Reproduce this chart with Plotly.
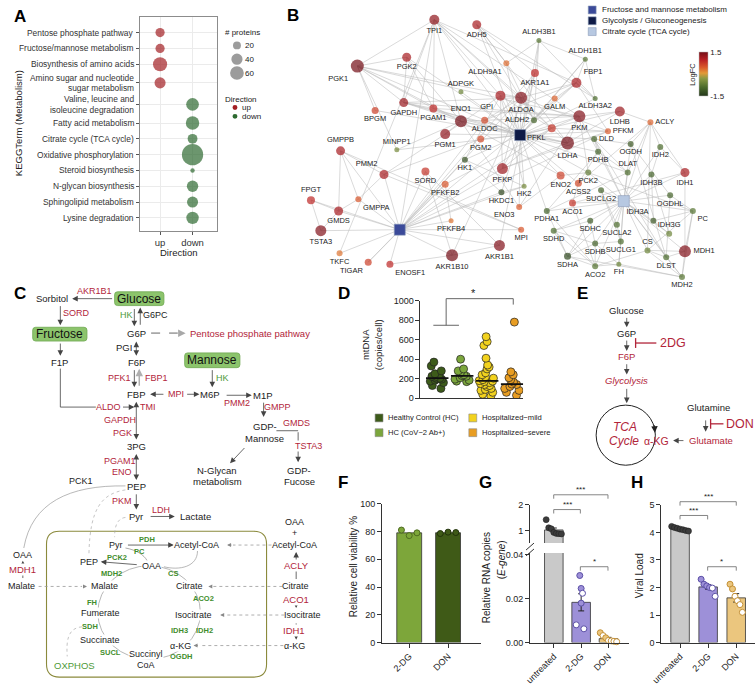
import numpy as np
import plotly.graph_objects as go

W, H = 756, 689
FONT = "Arial, Liberation Sans, sans-serif"

# ======================= DATA =======================
# Panel A: KEGG enrichment
kegg_terms = ["Pentose phosphate pathway", "Fructose/mannose metabolism", "Biosynthesis of amino acids",
              "Amino sugar and nucleotide<br>sugar metabolism", "Valine, leucine and<br>isoleucine degradation",
              "Fatty acid metabolism", "Citrate cycle (TCA cycle)", "Oxidative phosphorylation",
              "Steroid biosynthesis", "N-glycan biosynthesis", "Sphingolipid metabolism", "Lysine degradation"]
kegg_direction = ["up", "up", "up", "up", "down", "down", "down", "down", "down", "down", "down", "down"]
kegg_nproteins = [13, 13, 31, 19, 25, 28, 15, 70, 3, 20, 19, 24]
size_legend_values = [20, 40, 60]

# Panel B: protein network (layout coordinates of the network graph)
gene_names = ["TPI1", "ADH5", "PGK1", "PGK2", "ADPGK", "GPI", "BPGM", "GAPDH", "PGAM1", "ENO1", "ALDOC", "PGM1",
              "PGM2", "MINPP1", "HK1", "GMPPB", "PMM2", "SORD", "PFKFB2", "FPGT", "HKDC1", "ALDH3B1", "ALDH1B1",
              "ALDH9A1", "AKR1A1", "FBP1", "ALDOA", "GALM", "ALDH3A2", "LDHB", "ALDH2", "PKM", "ACLY", "PFKM",
              "PFKL", "LDHA", "DLD", "OGDH", "IDH2", "PDHB", "PFKP", "ENO2", "PCK2", "DLAT", "IDH3B", "IDH1", "HK2",
              "ACSS2", "SUCLG2", "OGDHL", "GMPPA", "GMDS", "TSTA3", "PFKFB4", "TKFC", "TIGAR", "ENOSF1", "AKR1B10",
              "AKR1B1", "ENO3", "MPI", "PDHA1", "ACO1", "PC", "IDH3A", "SDHC", "SUCLA2", "IDH3G", "SDHD", "SDHB",
              "SUCLG1", "CS", "MDH1", "DLST", "SDHA", "ACO2", "FH", "MDH2"]
gene_x = [430, 473, 352, 402, 457, 497, 370, 399, 429, 457, 481, 441, 477, 392, 461, 335, 379, 421, 441, 305, 498,
          536, 583, 503, 532, 574, 518, 552, 593, 618, 531, 577, 649, 606, 549, 565, 592, 629, 659, 596, 499, 558,
          586, 626, 650, 684, 521, 576, 599, 669, 353, 333, 315, 447, 334, 363, 385, 448, 496, 516, 518, 544, 570,
          692, 652, 588, 615, 668, 551, 593, 619, 646, 684, 665, 565, 593, 617, 681]
gene_y = [15, 20, 62, 53, 88, 92, 107, 99, 105, 118, 117, 131, 136, 147, 157, 148, 172, 169, 182, 198, 190, 36, 55,
          59, 69, 79, 94, 95, 95, 108, 117, 113, 119, 128, 125, 140, 136, 141, 144, 149, 166, 173, 170, 170, 172,
          170, 184, 181, 188, 193, 197, 209, 229, 219, 252, 261, 263, 254, 244, 205, 228, 209, 201, 209, 219, 219,
          223, 232, 229, 242, 240, 249, 250, 256, 255, 265, 263, 276]
gene_logfc = [1.3, 1.1, 1.5, 1.1, -0.6, 1.1, 0.7, 1.2, 0.9, 1.5, 0.6, 1.3, 0.6, -0.5, -1.2, 1.1, 1.1, 0.8, 0.5, 0.9,
              -1.3, -0.8, -0.8, 0.35, 0.9, 1.1, 1.4, 0.4, -0.9, 1.2, -1.0, 1.4, 0.4, 0.45, 0.8, 1.5, -1.0, -1.1, -0.9,
              -1.0, 1.2, 0.7, -0.7, -0.9, -1.0, 1.1, -0.5, 0.6, -1.0, -1.0, 0.5, 1.1, 1.4, 0.3, 0.3, 0.7, 0.9, 1.5,
              1.4, 0.45, 0.5, -1.0, 0.8, -0.8, -1.1, -1.1, -0.9, -0.6, -0.9, -1.0, -0.9, -0.6, 1.4, -0.9, -1.3, -0.8,
              -0.6, -0.8]
gene_weight = [10, 9, 13, 9, 5, 10, 7, 9, 8, 12, 7, 10, 7, 5, 6, 9, 9, 8, 7, 8, 6, 5, 5, 6, 8, 10, 12, 6, 5, 10, 6,
               12, 6, 6, 8, 13, 6, 6, 6, 6, 11, 8, 6, 6, 6, 9, 5, 7, 6, 6, 6, 9, 11, 5, 6, 7, 7, 12, 11, 6, 6, 6, 7,
               6, 6, 6, 6, 6, 6, 6, 6, 6, 12, 6, 7, 6, 5, 6]
hub_names = ["Fructose and mannose metabolism", "Glycolysis / Gluconeogenesis", "Citrate cycle (TCA cycle)"]
hub_x = [395, 517, 622]
hub_y = [228, 132, 199]
hub_members = {
    "Fructose and mannose metabolism": ["TPI1", "GMPPB", "PMM2", "SORD", "PFKFB2", "FPGT", "GMPPA", "GMDS", "TSTA3",
                                        "PFKFB4", "TKFC", "TIGAR", "ENOSF1", "AKR1B10", "AKR1B1", "MPI", "HK1", "HK2",
                                        "HKDC1", "PFKP", "PFKL", "PFKM", "ALDOA", "ALDOC", "FBP1", "AKR1A1"],
    "Glycolysis / Gluconeogenesis": ["TPI1", "PGK1", "PGK2", "ADPGK", "GPI", "BPGM", "GAPDH", "PGAM1", "ENO1",
                                     "ALDOC", "PGM1", "PGM2", "MINPP1", "HK1", "HKDC1", "ALDH3B1", "ALDH1B1",
                                     "ALDH9A1", "AKR1A1", "FBP1", "ALDOA", "GALM", "ALDH3A2", "LDHB", "ALDH2", "PKM",
                                     "PFKL", "LDHA", "DLD", "PDHB", "PFKP", "ENO2", "PCK2", "DLAT", "HK2", "ACSS2",
                                     "ENO3", "PDHA1", "ADH5", "PFKM"],
    "Citrate cycle (TCA cycle)": ["ACLY", "OGDH", "IDH2", "DLD", "PDHB", "DLAT", "IDH3B", "IDH1", "PCK2", "SUCLG2",
                                  "OGDHL", "PC", "IDH3A", "SDHC", "SUCLA2", "IDH3G", "SDHD", "SDHB", "SUCLG1", "CS",
                                  "MDH1", "DLST", "SDHA", "ACO2", "FH", "MDH2", "ACO1", "PDHA1"],
}
gene_edges = [("TPI1", "PGK1"), ("TPI1", "GAPDH"), ("TPI1", "ENO1"), ("TPI1", "PGAM1"), ("TPI1", "GPI"),
              ("TPI1", "ALDOA"), ("TPI1", "PKM"), ("TPI1", "FBP1"), ("TPI1", "LDHA"), ("ADH5", "ALDH2"),
              ("ADH5", "ALDH9A1"), ("ADH5", "AKR1A1"), ("ADH5", "LDHA"), ("ADH5", "ALDH3A2"), ("PGK1", "PGK2"),
              ("PGK1", "BPGM"), ("PGK1", "GAPDH"), ("PGK1", "ENO1"), ("PGK1", "PGAM1"), ("PGK1", "PKM"),
              ("PGK1", "ALDOA"), ("PGK2", "GAPDH"), ("PGK2", "PGAM1"), ("PGK2", "ENO1"), ("GAPDH", "PGAM1"),
              ("GAPDH", "ENO1"), ("GAPDH", "PKM"), ("GAPDH", "LDHA"), ("GAPDH", "ALDOA"), ("PGAM1", "ENO1"),
              ("PGAM1", "PKM"), ("ENO1", "PKM"), ("ENO1", "ENO2"), ("ENO1", "ENO3"), ("ENO1", "PGM1"),
              ("ENO1", "LDHA"), ("PKM", "LDHA"), ("PKM", "LDHB"), ("PKM", "PDHB"), ("PKM", "PFKL"),
              ("LDHA", "LDHB"), ("LDHA", "PFKP"), ("ALDOA", "ALDOC"), ("ALDOA", "GPI"), ("ALDOA", "PFKL"),
              ("ALDOA", "PFKP"), ("ALDOA", "PFKM"), ("ALDOA", "FBP1"), ("GPI", "HK1"), ("GPI", "HK2"),
              ("GPI", "PFKL"), ("GPI", "PFKP"), ("GPI", "PGM1"), ("HK1", "HK2"), ("HK1", "HKDC1"), ("HK2", "HKDC1"),
              ("PFKL", "PFKP"), ("PFKL", "PFKM"), ("PFKP", "PFKM"), ("FBP1", "ALDH1B1"), ("FBP1", "ALDH3A2"),
              ("FBP1", "ALDOC"), ("FBP1", "PFKM"), ("FBP1", "GALM"), ("ALDH3B1", "ALDH1B1"), ("ALDH3B1", "ALDH9A1"),
              ("ALDH3B1", "AKR1A1"), ("ALDH3B1", "ALDH2"), ("ALDH3B1", "ALDH3A2"), ("ALDH1B1", "ALDH3A2"),
              ("ALDH1B1", "ALDH2"), ("ALDH9A1", "ALDH2"), ("AKR1A1", "AKR1B1"), ("AKR1A1", "AKR1B10"),
              ("AKR1B1", "AKR1B10"), ("AKR1B1", "SORD"), ("SORD", "AKR1B10"), ("GMPPB", "PMM2"), ("GMPPB", "GMDS"),
              ("GMPPB", "GMPPA"), ("PMM2", "MPI"), ("PMM2", "GMPPA"), ("PMM2", "PGM1"), ("PMM2", "PGM2"),
              ("FPGT", "GMDS"), ("FPGT", "TSTA3"), ("GMDS", "TSTA3"), ("GMPPA", "GMDS"), ("MINPP1", "PGK1"),
              ("MINPP1", "ENO1"), ("PFKFB2", "PFKFB4"), ("PFKFB2", "PFKL"), ("TIGAR", "PFKFB2"), ("PDHA1", "PDHB"),
              ("PDHA1", "DLAT"), ("PDHB", "DLAT"), ("DLD", "DLAT"), ("DLD", "OGDH"), ("DLD", "DLST"),
              ("DLD", "PDHB"), ("OGDH", "DLST"), ("OGDH", "OGDHL"), ("OGDHL", "DLST"), ("IDH2", "IDH1"),
              ("IDH2", "IDH3B"), ("IDH3A", "IDH3B"), ("IDH3A", "IDH3G"), ("IDH3B", "IDH3G"), ("ACLY", "IDH2"),
              ("ACLY", "OGDH"), ("ACLY", "CS"), ("ACLY", "ACSS2"), ("ACLY", "DLAT"), ("ACLY", "IDH1"),
              ("PC", "MDH1"), ("PC", "MDH2"), ("PC", "CS"), ("PC", "OGDHL"), ("PC", "IDH3A"), ("PC", "PCK2"),
              ("MDH1", "MDH2"), ("MDH1", "CS"), ("MDH1", "IDH1"), ("MDH1", "DLST"), ("MDH2", "CS"),
              ("MDH2", "DLST"), ("MDH2", "FH"), ("MDH2", "SDHA"), ("CS", "ACO2"), ("CS", "DLST"), ("ACO1", "ACO2"),
              ("ACO1", "IDH1"), ("ACO2", "SDHA"), ("ACO2", "FH"), ("ACO2", "SDHB"), ("SDHA", "SDHB"),
              ("SDHA", "SDHC"), ("SDHA", "SDHD"), ("SDHB", "SDHC"), ("SDHB", "SDHD"), ("SDHC", "SDHD"),
              ("SUCLA2", "SUCLG1"), ("SUCLG1", "SUCLG2"), ("SUCLA2", "SUCLG2"), ("SUCLG1", "SDHB"),
              ("FH", "SUCLG1"), ("FH", "SDHB"), ("PCK2", "ENO2"), ("PCK2", "PKM"), ("ACSS2", "PDHB"),
              ("ACSS2", "ACO1"), ("ENO2", "ENO3"), ("ENO3", "PKM"), ("MPI", "GMPPB"), ("LDHB", "ACLY"),
              ("PDHA1", "SDHA"), ("PDHA1", "ACO2"), ("SDHD", "ACO2"), ("TKFC", "TPI1"), ("ENOSF1", "AKR1B10")]

# Panel D: mtDNA copies per cell
mt_groups = ["Healthy Control (HC)", "HC (CoV\u22122 Ab+)", "Hospitalized\u2212mild", "Hospitalized\u2212severe"]
mt_hc = [370, 330, 280, 250, 240, 225, 215, 205, 200, 195, 185, 175, 160, 130, 100]
mt_hc_ab = [400, 300, 280, 260, 240, 232, 225, 210, 195, 185, 175, 170]
mt_mild = [630, 580, 540, 410, 340, 320, 300, 260, 240, 220, 205, 190, 180, 175, 170, 160, 150, 140, 130, 120,
           100, 90, 80, 60, 40, 20]
mt_severe = [780, 270, 240, 210, 190, 165, 145, 140, 120, 100, 80, 60, 30]

# Panel F: relative cell viability (%)
via_labels = ["2-DG", "DON"]
via_2dg = [81, 77, 79]
via_don = [78.5, 79.5, 79.2]

# Panel G: relative RNA copies (E-gene)
rna_labels = ["untreated", "2-DG", "DON"]
rna_untreated = [1.42, 1.10, 1.06, 0.92, 0.88, 0.87, 0.86]
rna_2dg = [0.0306, 0.0247, 0.0225, 0.0180, 0.0081, 0.0063]
rna_don = [0.0045, 0.0032, 0.0022, 0.0010, 0.0008, 0.0006, 0.0004]

# Panel H: viral load
vl_labels = ["untreated", "2-DG", "DON"]
vl_untreated = [4.22, 4.18, 4.15, 4.12, 4.10, 4.07, 4.05]
vl_2dg = [2.30, 2.12, 2.06, 2.00, 1.98, 1.68]
vl_don = [2.12, 1.95, 1.68, 1.52, 1.38, 1.10]

# ======================= HELPERS =======================
def dom_x(a, b):
    return [a / W, b / W]


def dom_y(top, bottom):
    return [1 - bottom / H, 1 - top / H]


ann, shp = [], []
BLACK = "#1c1c1c"
RED = "#b2253a"
GREEN = "#4e9a38"
GREENB = "#3f8e2c"


def T(x, y, s, color=BLACK, size=9.5, xa="center", ya="middle", angle=0, bg=None, bold=False, italic=False):
    if bold:
        s = f"<b>{s}</b>"
    if italic:
        s = f"<i>{s}</i>"
    d = dict(x=x, y=y, xref="x2", yref="y2", text=s, showarrow=False, xanchor=xa, yanchor=ya, textangle=angle,
             font=dict(family=FONT, size=size, color=color))
    if bg:
        d.update(bgcolor=bg, borderpad=0)
    ann.append(d)


def A(x0, y0, x1, y1, color="#444", w=0.8, size=1.4, side="end"):
    ann.append(dict(x=x1, y=y1, ax=x0, ay=y0, xref="x2", yref="y2", axref="x2", ayref="y2", text="",
                    showarrow=True, arrowhead=2, arrowsize=size, arrowwidth=w, arrowcolor=color, arrowside=side,
                    startarrowhead=2, startarrowsize=size, standoff=0, startstandoff=0))


def L(x0, y0, x1, y1, color="#444", w=0.8, dash="solid"):
    shp.append(dict(type="line", x0=x0, y0=y0, x1=x1, y1=y1, xref="x2", yref="y2",
                    line=dict(color=color, width=w, dash=dash)))


def P(path, color="#888", w=0.8, dash="solid", fill="rgba(0,0,0,0)", layer="above"):
    shp.append(dict(type="path", path=path, xref="x2", yref="y2", layer=layer,
                    line=dict(color=color, width=w, dash=dash), fillcolor=fill))


def rrect(x0, y0, x1, y1, r):
    return (f"M{x0 + r},{y0} L{x1 - r},{y0} Q{x1},{y0} {x1},{y0 + r} L{x1},{y1 - r} Q{x1},{y1} {x1 - r},{y1} "
            f"L{x0 + r},{y1} Q{x0},{y1} {x0},{y1 - r} L{x0},{y0 + r} Q{x0},{y0} {x0 + r},{y0} Z")


def circ(cx, cy, d, color, line=None):
    shp.append(dict(type="circle", x0=cx - d / 2, x1=cx + d / 2, y0=cy - d / 2, y1=cy + d / 2, xref="x2",
                    yref="y2", fillcolor=color, line=dict(width=0 if line is None else 0.7, color=line or color)))


def sq(cx, cy, d, color, line=None):
    shp.append(dict(type="rect", x0=cx - d / 2, x1=cx + d / 2, y0=cy - d / 2, y1=cy + d / 2, xref="x2",
                    yref="y2", fillcolor=color, line=dict(width=0.6, color=line or color)))


def sem(v):
    v = np.asarray(v, float)
    return float(v.std(ddof=1) / np.sqrt(len(v)))


fig = go.Figure()

# ======================= PANEL A =======================
SIZEREF = 0.31
kegg_lines = [t.count("<br>") + 1 for t in kegg_terms]
kegg_rows = [0.0]
for i in range(1, len(kegg_terms)):
    kegg_rows.append(kegg_rows[-1] + 1 + 0.18 * ((kegg_lines[i - 1] - 1) + (kegg_lines[i] - 1)))
row_of = dict(zip(kegg_terms, kegg_rows))
dir_pos = {"up": 0, "down": 1}
dir_color = {"up": "#a31f24", "down": "#2d6a30"}
fig.add_trace(go.Scatter(x=[dir_pos[d] for d in kegg_direction], y=[row_of[t] for t in kegg_terms],
                         mode="markers", xaxis="x", yaxis="y",
                         marker=dict(size=kegg_nproteins, sizemode="area", sizeref=SIZEREF, sizemin=1,
                                     color=[dir_color[d] for d in kegg_direction], line=dict(width=0)),
                         showlegend=False, hoverinfo="skip", cliponaxis=False))
for term, row in zip(kegg_terms, kegg_rows):
    parts = term.split("<br>")
    for j, part in enumerate(parts):
        ann.append(dict(x=128, xref="x2", y=row, yref="y", yshift=((len(parts) - 1) / 2 - j) * 10.6, text=part,
                        showarrow=False, xanchor="right", yanchor="middle",
                        font=dict(family=FONT, size=8.4, color="#333")))
T(10, 12, "<b>A</b>", size=17, color="#000")
T(8, 120, "KEGGTerm (Metabolism)", size=9.5, angle=-90, color="#222")
T(171, 251, "Direction", size=9.5, color="#222")
T(216, 28, "# proteins", size=8, xa="left", color="#222")
for v, cy in zip(size_legend_values, [41, 55, 69]):
    circ(230, cy, np.sqrt(v / SIZEREF), "#9c9c9c")
    T(236, cy, str(v), size=8, xa="left", color="#222")
T(216, 96, "Direction", size=8, xa="left", color="#222")
circ(228, 104, 5, dir_color["up"])
circ(228, 113, 5, dir_color["down"])
T(233, 104, "up", size=8, xa="left", color="#222")
T(233, 113, "down", size=8, xa="left", color="#222")

# ======================= PANEL B =======================
idx = {g: i for i, g in enumerate(gene_names)}
ex, ey = [], []
for hname, hx, hy in zip(hub_names, hub_x, hub_y):
    for g in hub_members[hname]:
        ex += [hx, gene_x[idx[g]], None]
        ey += [hy, gene_y[idx[g]], None]
for a, b in gene_edges:
    ex += [gene_x[idx[a]], gene_x[idx[b]], None]
    ey += [gene_y[idx[a]], gene_y[idx[b]], None]
fig.add_trace(go.Scatter(x=ex, y=ey, mode="lines", line=dict(color="rgba(185,185,185,0.75)", width=0.7),
                         xaxis="x2", yaxis="y2", showlegend=False, hoverinfo="skip"))

label_pos = {"PGK1": "bottom left", "ADPGK": "top center", "GPI": "bottom left", "ENO1": "top center",
             "MINPP1": "top center", "GMPPB": "top center", "PMM2": "top left", "FPGT": "top center",
             "ALDH3B1": "top center", "ALDH1B1": "top center", "ALDH9A1": "bottom left", "FBP1": "top right",
             "ALDH2": "middle left", "ACLY": "middle right", "PFKM": "middle right", "PFKL": "bottom left",
             "DLD": "middle right", "DLAT": "top center", "GMPPA": "bottom right", "ENO3": "bottom left",
             "PC": "bottom right", "IDH3A": "top left", "IDH3G": "top center", "CS": "top center",
             "MDH1": "middle right", "TIGAR": "bottom left", "ENOSF1": "bottom right"}
fig.add_trace(go.Scatter(
    x=gene_x, y=gene_y, mode="markers+text", text=gene_names,
    textposition=[label_pos.get(g, "bottom center") for g in gene_names],
    textfont=dict(family=FONT, size=7.5, color=["#222"] * len(gene_names)),
    marker=dict(size=gene_weight, color=gene_logfc, cmin=-1.5, cmax=1.5, line=dict(width=0),
                colorscale=[[0, "#24371a"], [0.2, "#4b6b2c"], [0.4, "#8c9a44"], [0.52, "#e39a38"],
                            [0.65, "#da5a2b"], [0.82, "#b92024"], [1, "#740d16"]],
                colorbar=dict(x=698 / W, xanchor="left", y=1 - 70.5 / H, yanchor="middle", len=45 / H,
                              lenmode="fraction", thickness=9, thicknessmode="pixels", xpad=0, ypad=0,
                              tickvals=[-1.5, 1.5], ticktext=["-1.5", "1.5"], ticks="", outlinewidth=0.5,
                              outlinecolor="#bbb", tickfont=dict(family=FONT, size=8, color="#222"))),
    xaxis="x2", yaxis="y2", showlegend=False, hoverinfo="skip", cliponaxis=False))
hub_colors = ["#3b4a99", "#0e1a46", "#b7c8e1"]
fig.add_trace(go.Scatter(x=hub_x, y=hub_y, mode="markers", xaxis="x2", yaxis="y2", showlegend=False,
                         hoverinfo="skip",
                         marker=dict(symbol="square", size=11, color=hub_colors, line=dict(width=0.6, color="#8a9ab8"))))
T(692, 70, "LogFC", size=7.5, angle=-90, color="#222")
T(287, 11, "<b>B</b>", size=17, color="#000")
for name, col, cy in zip(hub_names, hub_colors, [5, 16, 27]):
    sq(590, cy, 8, col, "#8a9ab8")
    T(598, cy, name, size=8, xa="left", color="#222")

# ======================= PANEL C =======================
T(10, 293, "<b>C</b>", size=17, color="#000")
for (x0, y0, x1, y1), label, cx, cy in [((106, 291, 156, 305), "Glucose", 131, 298),
                                        ((23, 327, 78, 341), "Fructose", 50.5, 334),
                                        ((177, 353, 233, 368), "Mannose", 205, 360.5)]:
    P(rrect(x0, y0, x1, y1, 3), color="#6ea851", w=0.8, fill="#8cc46c")
    T(cx, cy, label, size=12, color="#111")
T(43, 298, "Sorbitol")
A(105, 298, 63, 298)
T(86, 290, "AKR1B1", RED, 9)
A(51, 304, 51, 325)
T(67, 313, "SORD", RED, 9)
A(51, 342, 51, 356)
T(50, 363, "F1P")
L(51, 369, 51, 408)
L(51, 408, 87, 408)
T(100, 408, "ALDO", RED, 9)
A(113, 408, 126, 408)
T(118, 315, "HK", GREEN, 9)
A(126, 307, 126, 326)
A(132, 326, 132, 307)
T(147, 315, "G6PC", size=9)
T(128, 333, "G6P")
L(143, 333, 170, 333, color="#a8a8a8", w=1.8, dash="dash")
A(170, 333, 178, 333, color="#a8a8a8", w=1.5, size=1)
T(180, 333, "Pentose phosphate pathway", RED, 9.5, xa="left")
T(116, 348, "PGI", size=9.5)
A(128, 340, 128, 356, side="end+start")
T(128, 363, "F6P")
A(126, 369, 126, 388)
A(131, 388, 131, 369, color="#b0b0b0", w=1.5, size=1)
T(111, 378, "PFK1", RED, 9)
T(148, 378, "FBP1", RED, 9)
T(128, 395, "FBP")
A(157, 395, 142, 395)
A(178, 395, 192, 395)
T(168, 395, "MPI", RED, 9)
T(203, 395, "M6P")
A(205, 369, 205, 388)
T(215, 378, "HK", GREEN, 9)
A(218, 396, 245, 396)
T(230, 404, "PMM2", RED, 9)
T(256, 396, "M1P")
A(257, 402, 257, 418)
T(271, 408, "GMPP", RED, 9)
T(258, 428, "GDP-")
T(258, 440, "Mannose")
L(270, 432, 292, 432)
A(292, 432, 292, 464)
T(290, 424, "GMDS", RED, 9)
T(303, 447, "TSTA3", RED, 9, bg="white")
T(293, 472, "GDP-")
T(293, 484, "Fucose")
A(239, 448, 223, 465)
T(210, 472, "N-Glycan")
T(210, 484, "metabolism")
A(128, 401, 128, 441, side="end+start")
T(140, 408, "TMI", RED, 9)
T(111, 421, "GAPDH", RED, 9)
T(114, 434, "PGK", RED, 9)
T(128, 448, "3PG")
A(128, 454, 128, 482, side="end+start")
T(111, 463, "PGAM1", RED, 9)
T(114, 474, "ENO", RED, 9)
T(128, 489, "PEP")
T(72, 483, "PCK1", size=9)
P("M 14,551 C 22,505 60,487 117,488", color="#999", w=0.7)
A(128, 495, 128, 512)
T(113, 503, "PKM", RED, 9)
T(128, 519, "Pyr")
A(141, 519, 167, 519)
T(153, 512, "LDH", RED, 9)
T(188, 519, "Lactate")
# mitochondrion
P(rrect(37, 534, 260, 682, 13), color="#8b8a3c", w=1.1)
P("M 117,492 C 92,496 81,512 80,557", color="#aaa", w=0.7, dash="dot")
P("M 117,520 C 108,521 106,530 106,540", color="#aaa", w=0.7, dash="dot")
shp.append(dict(type="circle", x0=89, x1=193, y0=569, y1=664, xref="x2", yref="y2", layer="below",
                line=dict(color="#a5a5a5", width=0.8)))
T(107, 548, "Pyr", size=9, bg="white")
A(118, 548, 166, 548)
T(139, 542, "PDH", GREENB, 7.5, bold=True)
T(189, 548, "Acetyl-CoA", size=9, bg="white")
P("M 117,551 C 128,553 136,558 139,564", color="#888", w=0.7)
T(131, 555, "PC", GREENB, 7.5, bold=True)
T(143, 569, "OAA", size=9, bg="white")
A(130, 568, 92, 565)
T(108, 561, "PCK2", GREENB, 7.5, bold=True)
T(80, 565, "PEP", size=9, bg="white")
P("M 190,554 C 190,570 172,574 156,570", color="#999", w=0.7)
T(103, 577, "MDH2", GREENB, 7.5, bold=True)
T(165, 577, "CS", GREENB, 7.5, bold=True)
T(96, 590, "Malate", size=9, bg="white")
T(182, 590, "Citrate", size=9, bg="white")
T(196, 602, "ACO2", GREENB, 7.5, bold=True)
T(83, 606, "FH", GREENB, 7.5, bold=True)
T(92, 617, "Fumerate", size=9, bg="white")
T(186, 619, "Isocitrate", size=9, bg="white")
T(81, 631, "SDH", GREENB, 7.5, bold=True)
T(172, 635, "IDH3", GREENB, 7.5, bold=True)
T(197, 635, "IDH2", GREENB, 7.5, bold=True)
T(91, 644, "Succinate", size=9, bg="white")
T(173, 650, "\u03b1-KG", size=9, bg="white")
T(102, 657, "SUCL", GREENB, 7.5, bold=True)
T(138, 659, "Succinyl", size=9, bg="white")
T(138, 670, "CoA", size=9, bg="white")
T(174, 661, "OGDH", GREENB, 7.5, bold=True)
P("M 73,631 C 58,632 57,646 58,661", color="#aaa", w=0.7, dash="dot")
T(65, 670, "OXPHOS", GREEN, 9.5)
# cytosol right
T(288, 525, "OAA", size=9)
T(288, 536, "+", size=9)
T(288, 548, "Acetyl-CoA", size=9)
L(265, 548, 226, 548, color="#999", dash="dot")
A(226, 548, 220, 548, color="#888", size=1)
A(290, 584, 290, 555)
T(290, 569, "ACLY", RED, 9.5, bg="white")
T(289, 590, "Citrate", size=9)
L(276, 590, 206, 590, color="#999", dash="dot")
A(206, 590, 201, 590, color="#888", size=1)
A(290, 596, 290, 612)
T(290, 603, "ACO1", RED, 9.5, bg="white")
T(296, 619, "Isocitrate", size=9)
L(278, 619, 218, 619, color="#999", dash="dot")
A(218, 619, 213, 619, color="#888", size=1)
A(290, 626, 290, 644)
T(288, 635, "IDH1", RED, 9.5, bg="white")
T(288, 650, "\u03b1-KG", size=9)
L(277, 650, 192, 650, color="#999", dash="dot")
A(192, 650, 186, 650, color="#888", size=1)
# cytosol left
T(13, 558, "OAA", size=9)
A(13, 583, 13, 564)
T(13, 573, "MDH1", RED, 9.5, bg="white")
T(12, 590, "Malate", size=9)
L(29, 590, 73, 590, color="#999", dash="dot")
A(73, 590, 78, 590, color="#888", size=1)

# ======================= PANEL D =======================
T(338, 293, "<b>D</b>", size=17, color="#000")
mt_colors = ["#3d5b1a", "#7ba63c", "#f2d21e", "#e89d22"]
for k, (vals, col) in enumerate(zip([mt_hc, mt_hc_ab, mt_mild, mt_severe], mt_colors)):
    fig.add_trace(go.Box(y=vals, x=[k] * len(vals), boxpoints="all", jitter=1.0, pointpos=0, width=0.72,
                         fillcolor="rgba(0,0,0,0)", line=dict(width=0, color="rgba(0,0,0,0)"),
                         marker=dict(size=8, color=col, line=dict(width=0.7, color="#222")),
                         xaxis="x3", yaxis="y3", showlegend=False, hoverinfo="skip"))
    med = float(np.median(vals))
    fig.add_trace(go.Scatter(x=[k - 0.45, k + 0.45], y=[med, med], mode="lines", line=dict(color="#111", width=1.8),
                             xaxis="x3", yaxis="y3", showlegend=False, hoverinfo="skip"))
T(367, 345, "mtDNA<br>(copies/cell)", size=9.5, angle=-90, color="#222")
P("M 429,325 L 455,325 M 442,325 L 442,298 L 510,298 L 510,304", color="#555", w=0.9)
T(470, 292, "*", size=11, color="#222")
for (cx, cy), name, col in zip([(374, 419), (374, 434), (469, 419), (469, 434)], mt_groups, mt_colors):
    sq(cx, cy, 8, col, "#888")
    T(cx + 7, cy, name, size=7.6, xa="left", color="#222")

# ======================= PANEL E =======================
T(580, 293, "<b>E</b>", size=17, color="#000")
T(625, 310, "Glucose")
A(625, 316, 625, 327)
T(625, 333, "G6P")
A(625, 339, 625, 351)
L(634, 338, 634, 348, color=RED, w=1.3)
L(634, 343, 655, 343, color=RED, w=1.3)
T(657, 343, "2DG", RED, 12.5, xa="left")
T(625, 357, "F6P", RED, 9.5)
A(625, 363, 625, 375)
T(625, 381, "Glycolysis", RED, 9.5, italic=True)
A(625, 388, 625, 404)
shp.append(dict(type="circle", x0=594, x1=654, y0=406, y1=467, xref="x2", yref="y2",
                line=dict(color="#222", width=1)))
A(653, 425, 653.5, 434, color="#222", w=1, size=1.3)
T(623, 428, "TCA", RED, 12, italic=True)
T(622, 442, "Cycle", RED, 12, italic=True)
T(655, 442, "\u03b1-KG", RED, 10.5)
T(708, 408, "Glutamine")
A(705, 420, 705, 433)
L(710, 420, 710, 430, color=RED, w=1.3)
L(710, 425, 723, 425, color=RED, w=1.3)
T(724, 425, "DON", RED, 12.5, xa="left")
T(710, 442, "Glutamate", RED, 9.5)
A(684, 442, 672, 442)

# ======================= PANEL F =======================
T(337, 485, "<b>F</b>", size=17, color="#000")
via_vals = [via_2dg, via_don]
via_colors = ["#7da63a", "#3f5a17"]
via_edge = ["#4e6b20", "#22330b"]
fig.add_trace(go.Bar(x=[0, 1], y=[float(np.mean(v)) for v in via_vals], width=0.64,
                     marker=dict(color=via_colors, line=dict(color="#333", width=0.8)),
                     xaxis="x4", yaxis="y4", showlegend=False, hoverinfo="skip"))
for k, (vals, col, ec) in enumerate(zip(via_vals, via_colors, via_edge)):
    fig.add_trace(go.Scatter(x=k + np.linspace(-0.2, 0.2, len(vals)), y=vals, mode="markers",
                             marker=dict(size=6, color=col, line=dict(color=ec, width=1)),
                             xaxis="x4", yaxis="y4", showlegend=False, hoverinfo="skip", cliponaxis=False))
T(348, 570, "Relative cell viability %", size=10, angle=-90, color="#222")

# ======================= PANEL G =======================
T(482, 485, "<b>G</b>", size=17, color="#000")
rna_vals = [rna_untreated, rna_2dg, rna_don]
bar_colors = ["#c9c9c9", "#9d90d8", "#ebc67e"]
rna_means = [float(np.mean(v)) for v in rna_vals]
fig.add_trace(go.Bar(x=[0, 1, 2], y=rna_means, width=0.68,
                     marker=dict(color=bar_colors, line=dict(color="#333", width=0.8)),
                     error_y=dict(type="data", array=[0, sem(rna_2dg), sem(rna_don)], color="#222",
                                  thickness=1, width=3),
                     xaxis="x5", yaxis="y5", showlegend=False, hoverinfo="skip"))
fig.add_trace(go.Bar(x=[0], y=[rna_means[0]], width=0.68,
                     marker=dict(color=bar_colors[0], line=dict(color="#333", width=0.8)),
                     error_y=dict(type="data", array=[sem(rna_untreated)], color="#222", thickness=1, width=3),
                     xaxis="x6", yaxis="y6", showlegend=False, hoverinfo="skip"))
fig.add_trace(go.Scatter(x=0 + np.linspace(-0.28, 0.28, len(rna_untreated)), y=rna_untreated, mode="markers",
                         marker=dict(size=6, color="#3c3c3c", line=dict(color="#222", width=0.6)),
                         xaxis="x6", yaxis="y6", showlegend=False, hoverinfo="skip", cliponaxis=False))
fig.add_trace(go.Scatter(x=1 + np.array([-0.05, 0.0, 0.05, 0.0, -0.18, 0.1]), y=rna_2dg, mode="markers",
                         marker=dict(size=6, color=["#9d90d8", "#9d90d8", "white", "#9d90d8", "white", "white"],
                                     line=dict(color="#5b4fa6", width=1)),
                         xaxis="x5", yaxis="y5", showlegend=False, hoverinfo="skip", cliponaxis=False))
fig.add_trace(go.Scatter(x=2 + np.linspace(-0.3, 0.3, len(rna_don)), y=rna_don, mode="markers",
                         marker=dict(size=6, color=["#ebc67e", "white", "#ebc67e", "white", "white", "white", "white"],
                                     line=dict(color="#c49035", width=1)),
                         xaxis="x5", yaxis="y5", showlegend=False, hoverinfo="skip", cliponaxis=False))
L(523, 553, 531, 546, color="#333", w=1)
L(523, 559, 531, 552, color="#333", w=1)
T(483, 581, "Relative RNA copies", size=10, angle=-90, color="#222")
T(498, 563, "(<i>E-gene</i>)", size=10, angle=-90, color="#222")
for x0, x1, y, s in [(551, 606, 497, "***"), (551, 578, 512, "***"), (578, 606, 570, "*")]:
    P(f"M {x0},{y + 4} L {x0},{y} L {x1},{y} L {x1},{y + 4}", color="#666", w=0.8)
    T((x0 + x1) / 2, y - 5, s, size=8, color="#222")

# ======================= PANEL H =======================
T(635, 485, "<b>H</b>", size=17, color="#000")
vl_vals = [vl_untreated, vl_2dg, vl_don]
fig.add_trace(go.Bar(x=[0, 1, 2], y=[float(np.mean(v)) for v in vl_vals], width=0.66,
                     marker=dict(color=bar_colors, line=dict(color="#333", width=0.8)),
                     error_y=dict(type="data", array=[sem(v) for v in vl_vals], color="#222", thickness=1,
                                  width=3),
                     xaxis="x7", yaxis="y7", showlegend=False, hoverinfo="skip"))
fig.add_trace(go.Scatter(x=0 + np.linspace(-0.3, 0.3, len(vl_untreated)), y=vl_untreated, mode="markers",
                         marker=dict(size=6, color="#3c3c3c", line=dict(color="#222", width=0.6)),
                         xaxis="x7", yaxis="y7", showlegend=False, hoverinfo="skip", cliponaxis=False))
fig.add_trace(go.Scatter(x=1 + np.linspace(-0.25, 0.25, len(vl_2dg)), y=vl_2dg, mode="markers",
                         marker=dict(size=6, color=["#9d90d8", "#9d90d8", "#9d90d8", "#9d90d8", "white", "white"],
                                     line=dict(color="#5b4fa6", width=1)),
                         xaxis="x7", yaxis="y7", showlegend=False, hoverinfo="skip", cliponaxis=False))
fig.add_trace(go.Scatter(x=2 + np.linspace(-0.22, 0.22, len(vl_don)), y=vl_don, mode="markers",
                         marker=dict(size=6, color=["#ebc67e", "#ebc67e", "white", "white", "white", "white"],
                                     line=dict(color="#c49035", width=1)),
                         xaxis="x7", yaxis="y7", showlegend=False, hoverinfo="skip", cliponaxis=False))
T(638, 579, "Viral Load", size=10, angle=-90, color="#222")
for x0, x1, y, s in [(679, 736, 504, "***"), (679, 707, 518, "***"), (707, 736, 570, "*")]:
    P(f"M {x0},{y + 4} L {x0},{y} L {x1},{y} L {x1},{y + 4}", color="#666", w=0.8)
    T((x0 + x1) / 2, y - 5, s, size=8, color="#222")

# ======================= LAYOUT =======================
tickf = dict(family=FONT, size=9, color="#222")


def ax(**kw):
    d = dict(showgrid=False, zeroline=False, showline=True, linecolor="#333", linewidth=1, ticks="outside",
             ticklen=4, tickwidth=1, tickcolor="#333", tickfont=tickf, fixedrange=True)
    d.update(kw)
    return d


gridA = dict(showgrid=True, gridcolor="#ebebeb", gridwidth=1, showline=True, mirror=True, linecolor="#8c8c8c",
             ticks="outside", ticklen=3, tickcolor="#555", zeroline=False, fixedrange=True)
row_span = kegg_rows[-1]
px_per_row = (216 - 28) / row_span

fig.update_layout(
    width=W, height=H, autosize=False, margin=dict(l=0, r=0, t=0, b=0),
    paper_bgcolor="white", plot_bgcolor="rgba(0,0,0,0)", font=dict(family=FONT, color="#222"),
    showlegend=False, bargap=0.3,
    xaxis=dict(domain=dom_x(132, 210), anchor="y", range=[-0.61, 1.76], tickvals=[0, 1],
               ticktext=["up", "down"], tickfont=dict(family=FONT, size=9.5, color="#333"), **gridA),
    yaxis=dict(domain=dom_y(12, 229), anchor="x", tickvals=kegg_rows, showticklabels=False,
               range=[row_span + 13 / px_per_row, -16 / px_per_row], **gridA),
    xaxis2=dict(domain=[0, 1], anchor="y2", range=[0, W], visible=False, fixedrange=True),
    yaxis2=dict(domain=[0, 1], anchor="x2", range=[H, 0], visible=False, fixedrange=True),
    xaxis3=ax(domain=dom_x(416, 520), anchor="y3", range=[-0.67, 3.44], ticks="", showticklabels=False),
    yaxis3=ax(domain=dom_y(300, 399), anchor="x3", range=[0, 1000], tickvals=[0, 200, 400, 600, 800, 1000]),
    xaxis4=ax(domain=dom_x(377, 477), anchor="y4", range=[-0.70, 1.84], tickvals=[0, 1], ticktext=via_labels,
              tickangle=-45),
    yaxis4=ax(domain=dom_y(506, 647), anchor="x4", range=[0, 100], tickvals=[0, 20, 40, 60, 80, 100]),
    xaxis5=ax(domain=dom_x(527, 627), anchor="y5", range=[-0.87, 2.74], tickvals=[0, 1, 2], ticktext=rna_labels,
              tickangle=-45),
    yaxis5=ax(domain=dom_y(556, 647), anchor="x5", range=[0, 0.0409], tickvals=[0, 0.02, 0.04],
              ticktext=["0.00", "0.02", "0.04"]),
    xaxis6=dict(domain=dom_x(527, 627), anchor="y6", range=[-0.87, 2.74], visible=False, fixedrange=True),
    yaxis6=ax(domain=dom_y(507, 546), anchor="x6", range=[0.5, 2.01], tickvals=[1, 2]),
    xaxis7=ax(domain=dom_x(660, 755), anchor="y7", range=[-0.67, 2.67], tickvals=[0, 1, 2], ticktext=vl_labels,
              tickangle=-45),
    yaxis7=ax(domain=dom_y(507, 647), anchor="x7", range=[0, 5.01], tickvals=[0, 1, 2, 3, 4, 5]),
    annotations=ann, shapes=shp,
)

fig.write_html("out.html", include_plotlyjs=True, config={"displayModeBar": False},
               post_script="document.body.style.margin='0';document.body.style.overflow='hidden';")
